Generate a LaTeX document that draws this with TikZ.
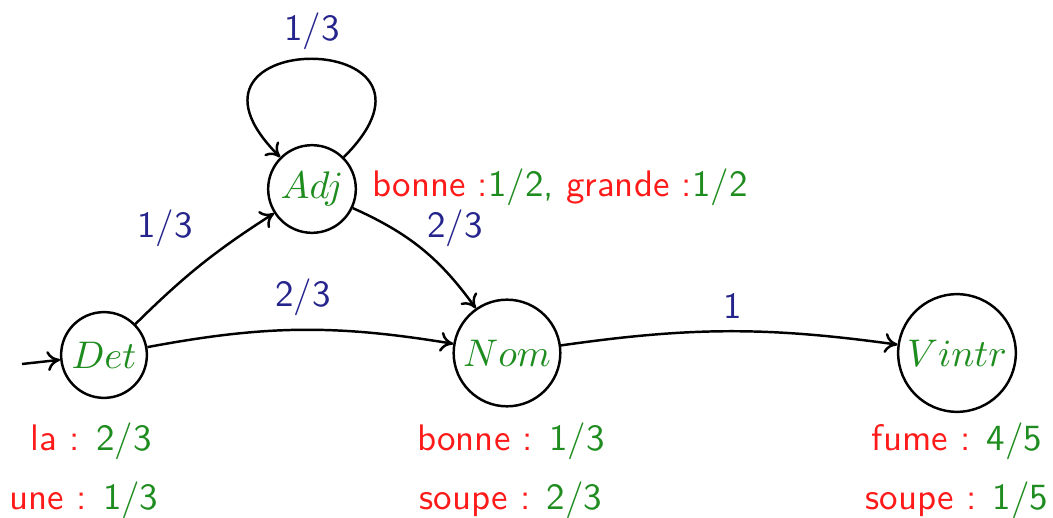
\documentclass[tikz,border=0pt]{standalone}
\usepackage{tikz}
\usepackage{xcolor}
\usetikzlibrary{arrows.meta}
\definecolor{HmmRed}{HTML}{FF1A1A}
\definecolor{HmmGreen}{HTML}{1E8C1E}
\definecolor{HmmBlue}{HTML}{24248C}

\begin{document}
\begin{tikzpicture}[x=0.01cm,y=-0.01cm,
    state/.style={circle,draw,line width=0.7pt,text=HmmGreen,inner sep=1.7pt,
      font=\fontsize{10.5}{12}\selectfont},
    trans/.style={-{To[length=1.3mm,width=2mm]},line width=0.7pt},
    prob/.style={text=HmmBlue,font=\fontsize{10.5}{12}\selectfont\sffamily},
    emit/.style={font=\fontsize{10.5}{12}\selectfont\sffamily}]
        \useasboundingbox (0,0) rectangle (1053,518);

        \node[state] (det) at (104,355) {$Det$};
        \node[state] (adj) at (312,189) {$Adj$};
        \node[state] (nom) at (507,353) {$Nom$};
        \node[state] (vintr) at (957,353) {$Vintr$};
        \coordinate (init) at (22,364);

        \draw[trans] (init) -- (det);
        \draw[trans] (det) to[bend left=6] (adj);
        \draw[trans] (det) to[bend left=10] (nom);
        \draw[trans] (adj) to[bend left=15] (nom);
        \draw[trans] (nom) to[bend left=8] (vintr);
        \draw[trans] (adj) to[out=45,in=135,distance=1.85cm] (adj);

        \node[prob] (p-loop) at (312,31) {1/3};
        \node[prob] (p-da) at (165,228) {1/3};
        \node[prob] (p-dn) at (303,297) {2/3};
        \node[prob] (p-an) at (455,228) {2/3};
        \node[prob] (p-nv) at (733,306) {1};

        \node[emit] (e-adj) at (560,187)
          {\textcolor{HmmRed}{bonne :}\textcolor{HmmGreen}{1/2,}
           \textcolor{HmmRed}{grande :}\textcolor{HmmGreen}{1/2}};
        \node[emit] (e-det1) at (91,441)
          {\textcolor{HmmRed}{la :} \textcolor{HmmGreen}{2/3}};
        \node[emit] (e-det2) at (84,500)
          {\textcolor{HmmRed}{une :} \textcolor{HmmGreen}{1/3}};
        \node[emit] (e-nom1) at (511,441)
          {\textcolor{HmmRed}{bonne :} \textcolor{HmmGreen}{1/3}};
        \node[emit] (e-nom2) at (511,500)
          {\textcolor{HmmRed}{soupe :} \textcolor{HmmGreen}{2/3}};
        \node[emit] (e-v1) at (957,441)
          {\textcolor{HmmRed}{fume :} \textcolor{HmmGreen}{4/5}};
        \node[emit] (e-v2) at (957,500)
          {\textcolor{HmmRed}{soupe :} \textcolor{HmmGreen}{1/5}};
      \end{tikzpicture}
\end{document}
